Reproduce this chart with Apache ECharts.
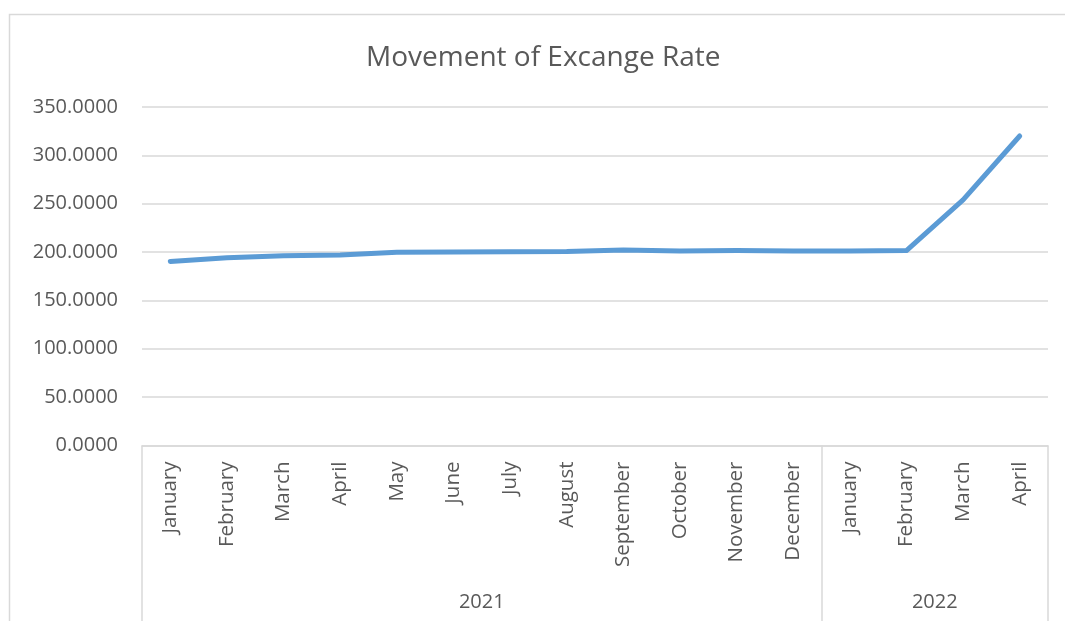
<!DOCTYPE html>
<html>
<head>
<meta charset="utf-8">
<style>
  html, body { margin: 0; padding: 0; background: #ffffff; }
  #chart { width: 1065px; height: 621px; }
</style>
<script src="https://cdn.jsdelivr.net/npm/echarts@6/dist/echarts.min.js"></script>
</head>
<body>
<div id="chart"></div>
<script>
// Monthly exchange rate, Jan 2021 – Apr 2022
const months = ['January', 'February', 'March', 'April', 'May', 'June', 'July', 'August',
  'September', 'October', 'November', 'December', 'January', 'February', 'March', 'April'];
const rates = [190.3, 194.2, 196.3, 197.0, 199.8, 200.0, 200.4, 200.6,
  202.2, 201.1, 201.6, 201.1, 201.0, 201.6, 253.9, 320.0];

// Year groups: label, first month index, number of months
const years = ['2021', '2022'];
const yearStarts = [0, 12];
const yearSpans = [12, 4];

const yTicks = [0, 50, 100, 150, 200, 250, 300, 350];

const FONT = '"Open Sans", sans-serif';
const GREY_TEXT = '#595959';
const GRID_LINE = '#d9d9d9';

const groupEdges = yearStarts.concat([months.length]);
const groupCentres = yearStarts.map((s, i) => s + yearSpans[i] / 2);

const chart = echarts.init(document.getElementById('chart'), null, { renderer: 'canvas' });

chart.setOption({
  animation: false,
  backgroundColor: '#ffffff',
  title: {
    text: 'Movement of Excange Rate',
    left: 361,
    top: 39,
    textStyle: { fontFamily: FONT, fontSize: 28, fontWeight: 'normal', color: GREY_TEXT }
  },
  graphic: [{
    type: 'rect',
    shape: { x: 9.5, y: 14.5, width: 1100, height: 700 },
    style: { fill: 'none', stroke: GRID_LINE, lineWidth: 1.5 },
    silent: true,
    z: -1
  }],
  grid: { left: 142, right: 17, top: 107, bottom: 175.5, containLabel: false },
  xAxis: [{
    type: 'category',
    data: months,
    boundaryGap: true,
    axisLine: { show: true, lineStyle: { color: GRID_LINE, width: 1.5 } },
    axisTick: { show: false },
    axisLabel: {
      interval: 0,
      rotate: 90,
      margin: 16,
      fontFamily: FONT,
      fontSize: 20.5,
      color: GREY_TEXT
    }
  }, {
    // Year grouping row beneath the months
    type: 'value',
    position: 'bottom',
    min: 0,
    max: months.length,
    axisLine: { show: false },
    splitLine: { show: false },
    axisTick: {
      show: true,
      inside: false,
      length: 180,
      customValues: groupEdges,
      lineStyle: { color: GRID_LINE, width: 1.5 }
    },
    axisLabel: {
      customValues: groupCentres,
      margin: 147,
      fontFamily: FONT,
      fontSize: 20,
      color: GREY_TEXT,
      formatter: function (v) {
        const i = groupCentres.indexOf(v);
        return i >= 0 ? years[i] : '';
      }
    }
  }],
  yAxis: {
    type: 'value',
    min: yTicks[0],
    max: yTicks[yTicks.length - 1],
    interval: yTicks[1] - yTicks[0],
    axisLine: { show: false },
    axisTick: { show: false },
    splitLine: { show: true, lineStyle: { color: GRID_LINE, width: 1.5 } },
    axisLabel: {
      margin: 24,
      fontFamily: FONT,
      fontSize: 20,
      color: GREY_TEXT,
      formatter: v => v.toFixed(4)
    }
  },
  series: [{
    type: 'line',
    xAxisIndex: 0,
    data: rates,
    showSymbol: false,
    lineStyle: { color: '#5b9bd5', width: 5, cap: 'round', join: 'round' },
    itemStyle: { color: '#5b9bd5' }
  }]
});
</script>
</body>
</html>
